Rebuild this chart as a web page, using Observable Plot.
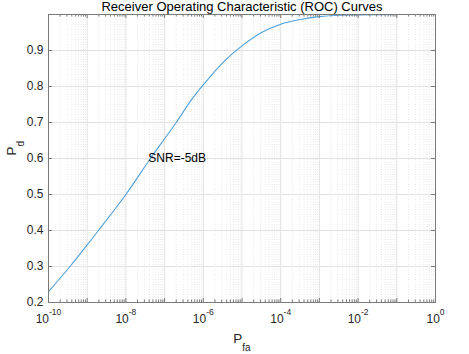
<!DOCTYPE html>
<html><head><meta charset="utf-8">
<script src="https://cdn.jsdelivr.net/npm/d3@7"></script>
<script src="https://cdn.jsdelivr.net/npm/@observablehq/plot@0.6"></script>
<style>body{margin:0;background:#fff} svg{display:block}</style>
</head><body><div id="chart"></div>
<script>
// Data (SNR = -5 dB ROC curve)
const pfa = [1e-10, 3.6e-10, 1e-9, 1.95e-9, 1e-8, 4.3e-8, 1e-7, 2.0e-7, 4.7e-7, 1.1e-6, 3.6e-6, 1e-5, 3.2e-5, 1e-4, 3.2e-4, 1e-3, 3.2e-3, 1e-2, 1e-1, 1];
const pd  = [0.23, 0.30, 0.36, 0.40, 0.50, 0.60, 0.655, 0.70, 0.76, 0.81, 0.872, 0.913, 0.950, 0.973, 0.986, 0.994, 0.998, 0.999, 1.0, 1.0];
const curveLabel = "SNR=-5dB";
const labelPfa = 3.8e-8, labelPd = 0.60;

const xTicks = [1e-10, 1e-8, 1e-6, 1e-4, 1e-2, 1];
const xTickLabels = ["10^-10", "10^-8", "10^-6", "10^-4", "10^-2", "10^0"];
const xDecades = [1e-10, 1e-9, 1e-8, 1e-7, 1e-6, 1e-5, 1e-4, 1e-3, 1e-2, 1e-1, 1];
const yTicks = [0.2, 0.3, 0.4, 0.5, 0.6, 0.7, 0.8, 0.9];
const titleText = "Receiver Operating Characteristic (ROC) Curves";
const xLabel = "P_fa", yLabel = "P_d";

const minorX = [];
for (const d of xDecades.slice(0, -1)) for (let k = 2; k <= 9; k++) minorX.push(k * d);
const majorX = xDecades;

const data = pfa.map((x, i) => ({x, y: pd[i]}));

const W = 469, H = 354, mL = 48, mR = 34, mT = 14, mB = 52;
const iw = W - mL - mR, ih = H - mT - mB;

const chart = Plot.plot({
  width: W, height: H,
  marginLeft: mL, marginRight: mR, marginTop: mT, marginBottom: mB,
  style: {fontFamily: "'Liberation Sans', Arial, sans-serif", fontSize: "12px", color: "#262626", background: "#fff"},
  x: {type: "log", domain: [1e-10, 1]},
  y: {domain: [0.2, 1]},
  marks: [
    Plot.ruleX(minorX, {stroke: "#d6d6d6", strokeDasharray: "1,1.5", strokeWidth: 0.6}),
    Plot.ruleX(majorX, {stroke: "#e2e2e2"}),
    Plot.ruleY(yTicks, {stroke: "#e2e2e2"}),
    Plot.line(data, {x: "x", y: "y", curve: "catmull-rom", stroke: "#4fa0da", strokeWidth: 1.1}),
    Plot.text([curveLabel], {x: () => labelPfa, y: () => labelPd, text: d => d, textAnchor: "start", fontSize: 12, fill: "#000"}),
    Plot.frame({stroke: "#7a7a7a"}),
    // inward ticks (bottom/top, left/right)
    Plot.ruleX(majorX, {stroke: "#7a7a7a", insetTop: ih - 4}),
    Plot.ruleX(majorX, {stroke: "#7a7a7a", insetBottom: ih - 4}),
    Plot.ruleX(minorX, {stroke: "#7a7a7a", insetTop: ih - 2.5}),
    Plot.ruleX(minorX, {stroke: "#7a7a7a", insetBottom: ih - 2.5}),
    Plot.ruleY(yTicks, {stroke: "#7a7a7a", insetRight: iw - 4}),
    Plot.ruleY(yTicks, {stroke: "#7a7a7a", insetLeft: iw - 4}),
    Plot.axisX(xTicks, {tickSize: 0, tickPadding: 11.5, fontSize: 12, label: null,
      tickFormat: d => xTickLabels[xTicks.indexOf(d)]}),
    Plot.axisY(yTicks, {tickSize: 0, tickPadding: 5, fontSize: 12, label: null, tickFormat: d => d.toFixed(1)}),
    Plot.text([xLabel], {frameAnchor: "bottom", text: d => d, lineAnchor: "top", dy: 30.7, fontSize: 13.5, fill: "#262626"}),
    Plot.text([yLabel], {frameAnchor: "left", text: d => d, rotate: -90, lineAnchor: "middle", dx: -37, dy: -3, fontSize: 13.5, fill: "#262626"}),
    Plot.text([titleText], {frameAnchor: "top", text: d => d, lineAnchor: "top", dy: -12.5, fontSize: 13, fill: "#000"})
  ]
});

// superscripts / subscripts as real text via tspans
const NS = "http://www.w3.org/2000/svg";
function split(t, sep, dy, fs) {
  const [base, rest] = t.textContent.split(sep);
  t.textContent = "";
  const a = document.createElementNS(NS, "tspan"); a.textContent = base; t.appendChild(a);
  const b = document.createElementNS(NS, "tspan"); b.textContent = rest;
  b.setAttribute("dy", dy); b.setAttribute("font-size", fs); t.appendChild(b);
}
chart.querySelectorAll("text").forEach(t => {
  const s = t.textContent;
  if (xTickLabels.includes(s)) split(t, "^", "-8", "8.5");
  else if (s === xLabel || s === yLabel) split(t, "_", "8", "10");
});
document.getElementById("chart").appendChild(chart);
</script>
</body></html>
